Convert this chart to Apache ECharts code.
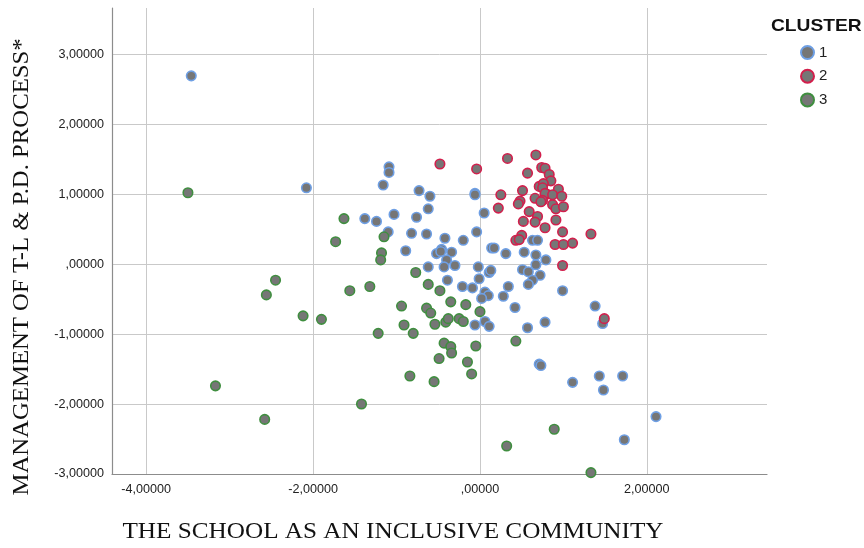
<!DOCTYPE html>
<html>
<head>
<meta charset="utf-8">
<script src="https://cdn.jsdelivr.net/npm/echarts@6/dist/echarts.min.js"></script>
<style>html,body{margin:0;padding:0;background:#fff}#c{width:864px;height:548px}</style>
</head>
<body>
<div id="c"></div>
<script>
var clusterNames = ['1', '2', '3'];
var xTicks = [-4, -2, 0, 2];
var yTicks = [-3, -2, -1, 0, 1, 2, 3];
var xTitle = 'THE SCHOOL AS AN INCLUSIVE COMMUNITY';
var yTitle = 'MANAGEMENT OF T-L & P.D. PROCESS*';
var legendTitle = 'CLUSTER';

var cluster1 = [
[-3.46,2.69],[-2.08,1.09],[-1.09,1.39],[-1.09,1.31],[-1.16,1.13],[-0.73,1.05],[-0.60,0.97],[-0.06,1.01],[-0.06,0.99],
[-0.62,0.79],[-0.76,0.67],[-1.03,0.71],[-1.38,0.65],[-1.24,0.61],[-1.10,0.46],[-0.82,0.44],[-0.64,0.43],[-0.42,0.37],
[-0.20,0.34],[-0.04,0.46],[0.05,0.73],[-0.89,0.19],[-0.52,0.15],[-0.46,0.21],[-0.47,0.18],[-0.34,0.17],[-0.40,0.06],
[-0.62,-0.04],[-0.43,-0.04],[-0.30,-0.02],[-0.39,-0.23],[-0.21,-0.32],[-0.09,-0.34],[-0.02,-0.04],[-0.01,-0.21],
[0.11,-0.12],[0.13,-0.09],[0.06,-0.40],[0.10,-0.45],[0.02,-0.49],[-0.06,-0.87],[0.06,-0.82],[0.11,-0.89],[0.14,0.23],
[0.17,0.23],[0.31,0.15],[0.34,-0.32],[0.28,-0.46],[0.42,-0.62],[0.53,0.17],[0.63,0.34],[0.69,0.34],[0.67,0.13],
[0.79,0.06],[0.67,-0.01],[0.51,-0.08],[0.58,-0.11],[0.72,-0.16],[0.63,-0.23],[0.58,-0.29],[0.99,-0.38],[0.57,-0.91],
[0.78,-0.83],[0.71,-1.43],[0.73,-1.45],[1.11,-1.69],[1.43,-1.60],[1.71,-1.60],[1.48,-1.80],[1.38,-0.60],[1.47,-0.85],
[2.11,-2.18],[1.73,-2.51]
];
var cluster2 = [
[-0.48,1.43],[-0.04,1.36],[0.33,1.51],[0.67,1.56],[0.74,1.38],[0.78,1.37],[0.57,1.30],[0.83,1.28],[0.85,1.19],
[0.71,1.11],[0.76,1.15],[0.75,1.09],[0.51,1.05],[0.94,1.07],[0.25,0.99],[0.80,1.00],[0.78,1.01],[0.87,0.99],[0.98,0.97],
[0.66,0.94],[0.75,0.91],[0.73,0.89],[0.48,0.90],[0.46,0.86],[0.22,0.80],[0.87,0.85],[0.91,0.79],[1.00,0.82],[0.59,0.75],
[0.69,0.68],[0.52,0.61],[0.66,0.60],[0.91,0.63],[0.78,0.52],[0.50,0.41],[0.43,0.34],[0.47,0.35],[0.99,0.46],[1.33,0.43],
[0.90,0.28],[1.00,0.28],[1.11,0.30],[0.99,-0.02],[1.49,-0.78]
];
var cluster3 = [
[-3.50,1.02],[-1.63,0.65],[-1.73,0.32],[-1.15,0.39],[-1.18,0.16],[-1.19,0.06],[-0.77,-0.12],[-2.45,-0.23],[-2.56,-0.44],
[-1.56,-0.38],[-1.32,-0.32],[-0.62,-0.29],[-0.48,-0.38],[-2.12,-0.74],[-1.90,-0.79],[-0.94,-0.60],[-0.64,-0.63],
[-0.59,-0.70],[-0.35,-0.54],[-0.17,-0.58],[0.00,-0.68],[-0.91,-0.87],[-0.80,-0.99],[-0.54,-0.86],[-0.41,-0.83],
[-0.38,-0.78],[-0.25,-0.78],[-0.20,-0.82],[-1.22,-0.99],[0.43,-1.10],[-0.43,-1.13],[-0.35,-1.18],[-0.34,-1.27],
[-0.05,-1.17],[-0.49,-1.35],[-0.15,-1.40],[-0.10,-1.57],[-0.84,-1.60],[-0.55,-1.68],[-3.17,-1.74],[-1.42,-2.00],
[-2.58,-2.22],[0.89,-2.36],[0.32,-2.60],[1.33,-2.98]
];

var ringColors = ['#6e9fe4', '#d21f4c', '#3f8e3f'];
var fillColor = '#767676';

function fmt(v) {
  var s = Math.abs(v).toFixed(5).replace('.', ',');
  if (Math.abs(v) < 1e-9) return s.replace(/^0/, '');
  return (v < 0 ? '-' : '') + s;
}

var chart = echarts.init(document.getElementById('c'), null, {renderer: 'canvas'});
var allData = [cluster1, cluster2, cluster3];
var series = allData.map(function (d, i) {
  return {
    name: clusterNames[i],
    type: 'scatter',
    data: d,
    symbol: 'circle',
    symbolSize: 9.5,
    itemStyle: {color: fillColor, borderColor: ringColors[i], borderWidth: 1.6, opacity: 1},
    emphasis: {disabled: true}
  };
});

chart.setOption({
  animation: false,
  backgroundColor: '#fff',
  grid: {left: 112, top: 8, right: 97, bottom: 74, containLabel: false},
  xAxis: {
    type: 'value', min: -4.41, max: 3.44,
    axisLine: {show: true, onZero: false, lineStyle: {color: '#8c8c8c', width: 1.2}},
    axisTick: {show: false, customValues: xTicks},
    axisLabel: {customValues: xTicks, formatter: fmt, color: '#222', fontFamily: 'Liberation Sans', fontSize: 12.6, margin: 9},
    splitLine: {show: true, lineStyle: {color: '#c9c9c9', width: 1}}
  },
  yAxis: {
    type: 'value', min: -3, max: 3.66,
    axisLine: {show: true, onZero: false, lineStyle: {color: '#8c8c8c', width: 1.2}},
    axisTick: {show: false, customValues: yTicks},
    axisLabel: {customValues: yTicks, formatter: fmt, color: '#222', fontFamily: 'Liberation Sans', fontSize: 12.6, margin: 8},
    splitLine: {show: true, lineStyle: {color: '#c9c9c9', width: 1}}
  },
  legend: {
    orient: 'vertical', left: 800, top: 45, itemWidth: 13, itemHeight: 13, itemGap: 8.7,
    icon: 'circle', padding: 0,
    textStyle: {color: '#222', fontFamily: 'Liberation Sans', fontSize: 15, padding: [0, 0, 0, 0]},
    data: clusterNames
  },
  graphic: [
    {type: 'text', left: 771, top: 18, scaleX: 1.13, style: {text: legendTitle, fill: '#111', font: 'bold 17px "Liberation Sans"'}},
    {type: 'text', x: 393, y: 532, scaleX: 1.05, style: {text: xTitle, fill: '#111', font: '24px "Liberation Serif"', align: 'center', verticalAlign: 'middle'}},
    {type: 'text', x: 22, y: 267, rotation: Math.PI / 2, scaleX: 1.03, style: {text: yTitle, fill: '#111', font: '24px "Liberation Serif"', align: 'center', verticalAlign: 'middle'}}
  ],
  series: series
});
</script>
</body>
</html>
